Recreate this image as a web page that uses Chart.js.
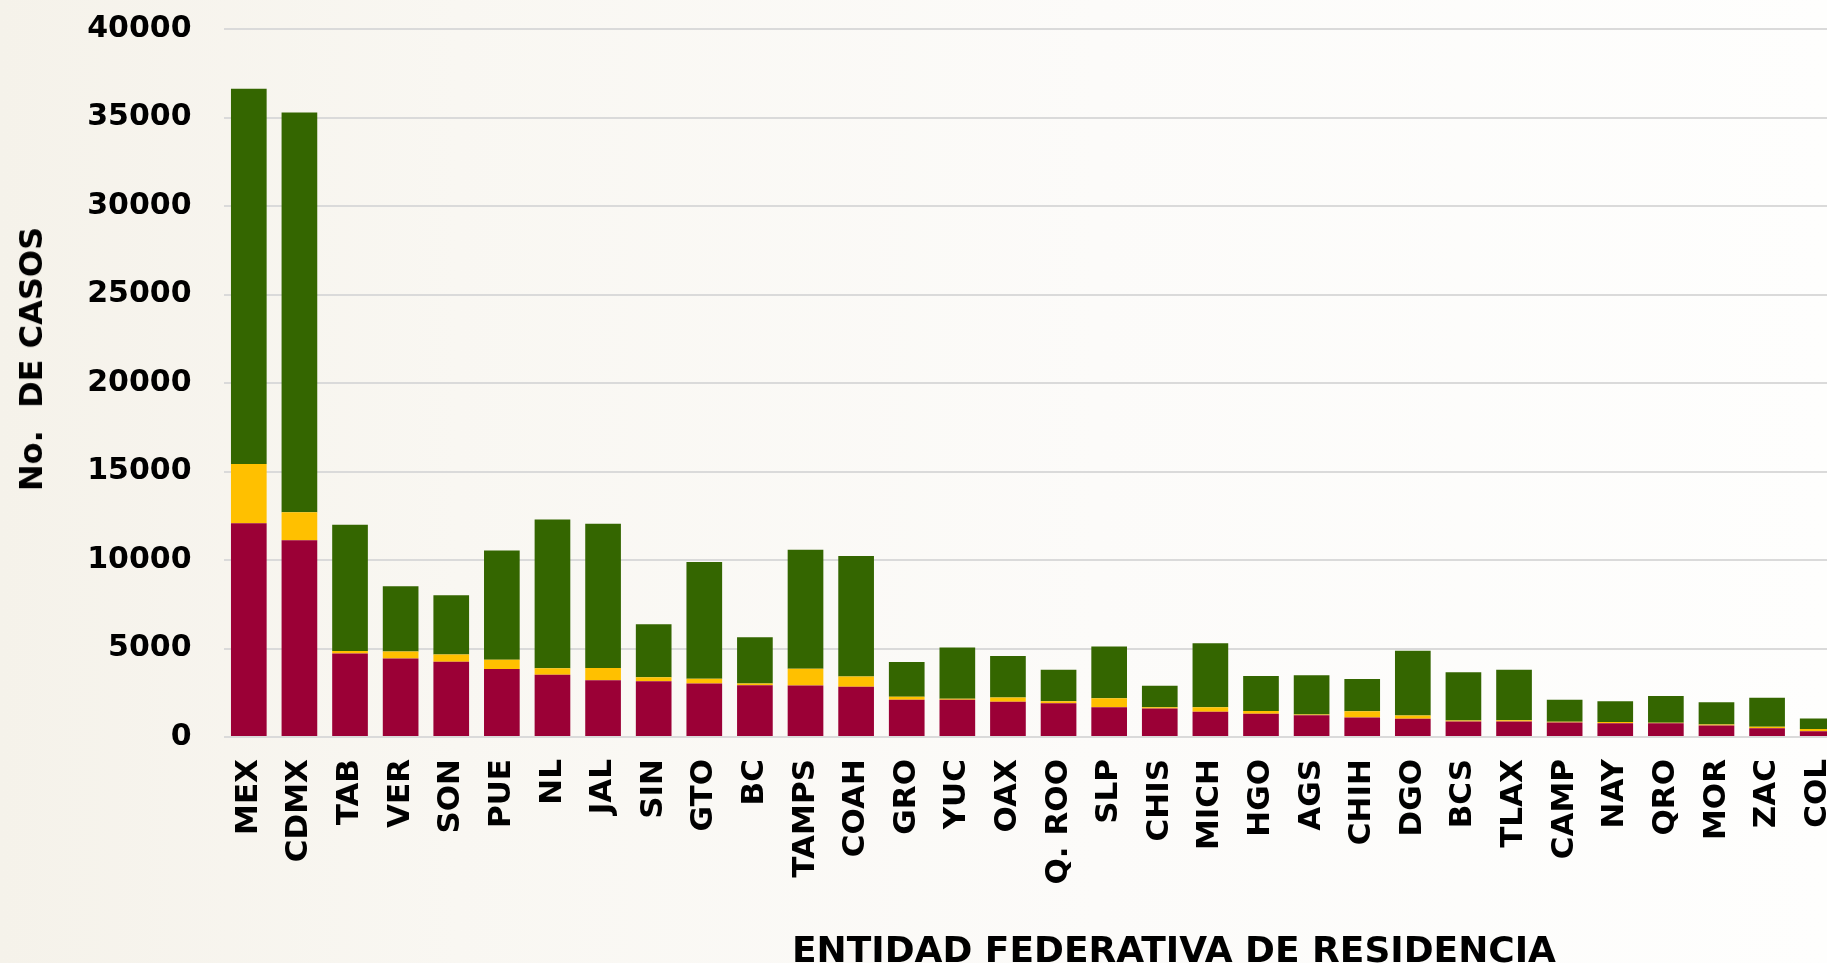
<!DOCTYPE html>
<html>
<head>
<meta charset="utf-8">
<script src="https://cdn.jsdelivr.net/npm/chart.js@4.4.0/dist/chart.umd.min.js"></script>
<style>
  html, body { margin: 0; padding: 0; overflow: hidden; }
  body {
    width: 1827px; height: 963px; position: relative;
    background: linear-gradient(90deg, #f5f2ea 0%, #f9f7f2 25%, #fcfbf9 60%, #fefefd 100%);
    font-family: "DejaVu Sans", sans-serif;
  }
  #wrap { position: absolute; left: 0; top: 0; width: 1860px; height: 990px; }
  .axis-title { position: absolute; font-weight: bold; color: #000; white-space: pre; }
  #ytitle { left: 31px; top: 359px; font-size: 32px; transform: translate(-50%, -50%) rotate(-90deg); }
  #xtitle { left: 1174px; top: 949px; font-size: 36px; transform: translate(-50%, -50%); }
</style>
</head>
<body>
<div id="wrap"><canvas id="chart" width="1860" height="990"></canvas></div>
<div class="axis-title" id="ytitle">No.  DE CASOS</div>
<div class="axis-title" id="xtitle">ENTIDAD FEDERATIVA DE RESIDENCIA</div>
<script>
// entidades, ordered as in the figure
const estados = ['MEX', 'CDMX', 'TAB', 'VER', 'SON', 'PUE', 'NL', 'JAL', 'SIN', 'GTO', 'BC', 'TAMPS', 'COAH',
  'GRO', 'YUC', 'OAX', 'Q. ROO', 'SLP', 'CHIS', 'MICH', 'HGO', 'AGS', 'CHIH', 'DGO', 'BCS', 'TLAX',
  'CAMP', 'NAY', 'QRO', 'MOR', 'ZAC', 'COL'];

// stacked segments, bottom to top
const rojo = [12070, 11110, 4720, 4440, 4250, 3840, 3510, 3210, 3155, 3020, 2930, 2910, 2840,
  2100, 2100, 1985, 1910, 1680, 1610, 1420, 1315, 1230, 1100, 1025, 870, 870,
  815, 780, 780, 645, 490, 320];
const amarillo = [3350, 1590, 140, 390, 410, 520, 380, 690, 220, 270, 95, 945, 585,
  170, 60, 245, 115, 510, 75, 260, 150, 40, 360, 190, 60, 75,
  40, 70, 30, 55, 95, 135];
const verde = [21210, 22580, 7130, 3680, 3350, 6170, 8400, 8150, 2990, 6600, 2610, 6730, 6800,
  1970, 2890, 2345, 1780, 2930, 1210, 3620, 1980, 2215, 1820, 3655, 2725, 2860,
  1250, 1175, 1500, 1270, 1630, 590];

const yTicks = [0, 5000, 10000, 15000, 20000, 25000, 30000, 35000, 40000];

const ctx = document.getElementById('chart').getContext('2d');

new Chart(ctx, {
  type: 'bar',
  data: {
    labels: estados,
    datasets: [
      { label: 'rojo', data: rojo, backgroundColor: '#9b0036' },
      { label: 'amarillo', data: amarillo, backgroundColor: '#ffc000' },
      { label: 'verde', data: verde, backgroundColor: '#346600' }
    ]
  },
  options: {
    responsive: false,
    animation: false,
    layout: { padding: { left: 0, right: 17, top: 29, bottom: 0 } },
    datasets: { bar: { barPercentage: 0.705, categoryPercentage: 1.0 } },
    plugins: { legend: { display: false }, tooltip: { enabled: false } },
    scales: {
      x: {
        stacked: true,
        grid: { display: false, drawTicks: false },
        border: { display: false },
        ticks: {
          autoSkip: false, minRotation: 90, maxRotation: 90, padding: 22,
          color: '#000', font: { family: 'DejaVu Sans', weight: 'bold', size: 31 }
        },
        afterFit: (scale) => {
          scale.height = 253;
          scale.paddingLeft = 0; scale.paddingRight = 0;
          scale.paddingTop = 0; scale.paddingBottom = 0;
        }
      },
      y: {
        stacked: true,
        min: 0, max: 40000,
        afterBuildTicks: (scale) => { scale.ticks = yTicks.map(v => ({ value: v })); },
        grid: { color: '#dadada', lineWidth: 2, drawTicks: false },
        border: { display: false },
        ticks: {
          padding: 32, color: '#000',
          font: { family: 'DejaVu Sans', weight: 'bold', size: 30 },
          callback: (v) => String(v)
        },
        afterFit: (scale) => {
          scale.width = 223.5;
          scale.paddingTop = 0; scale.paddingBottom = 0;
        }
      }
    }
  }
});
</script>
</body>
</html>
